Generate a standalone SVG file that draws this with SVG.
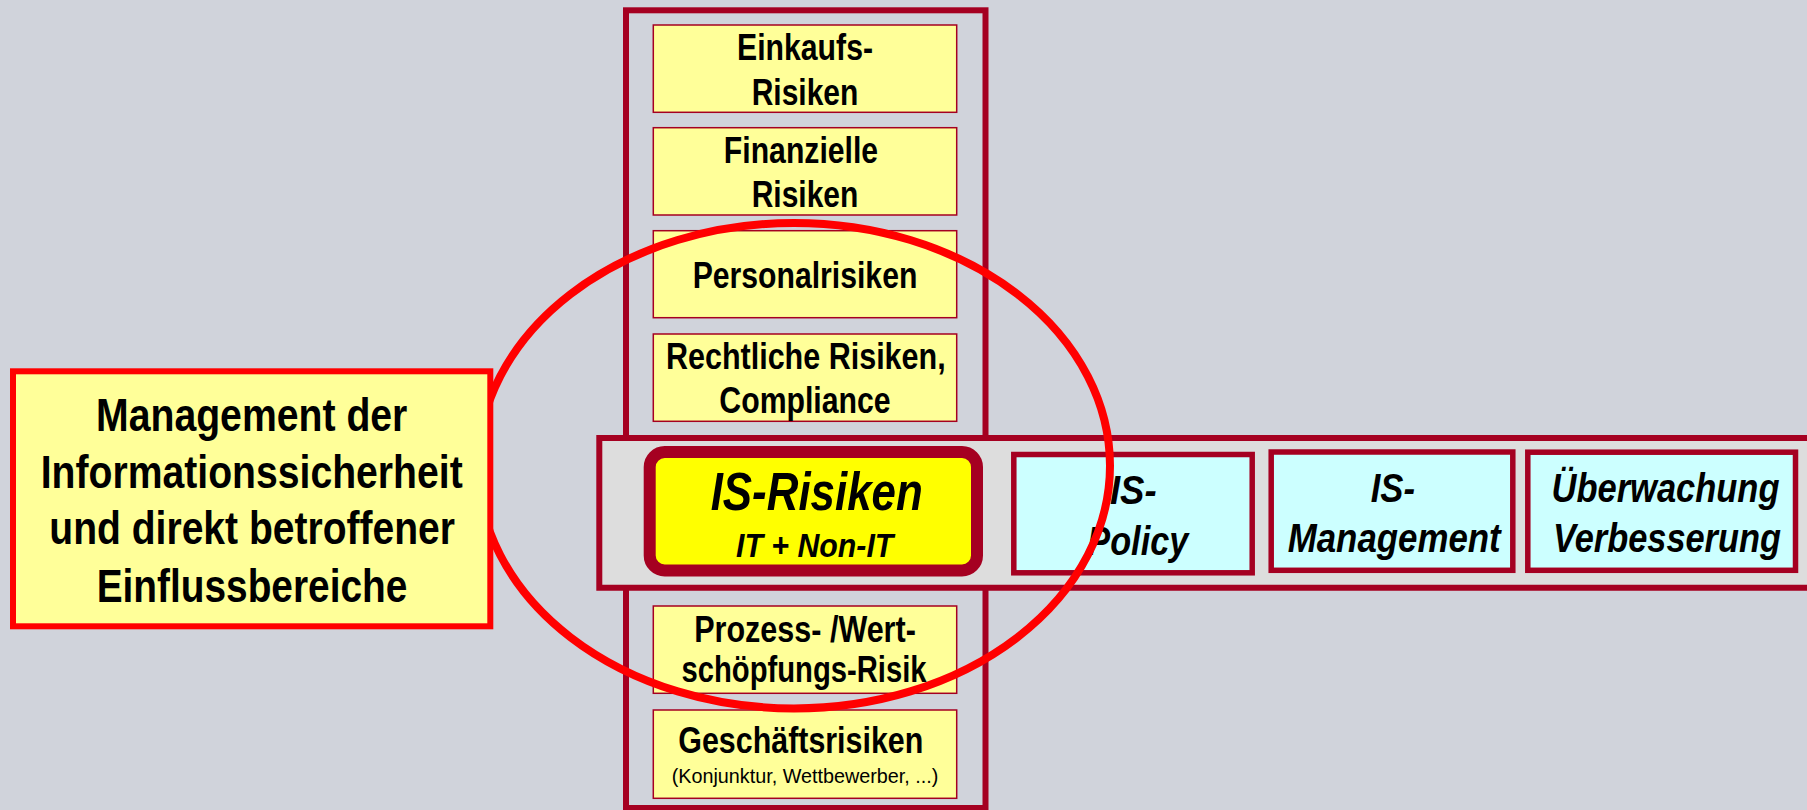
<svg xmlns="http://www.w3.org/2000/svg" width="1807" height="810" viewBox="0 0 1807 810">
  <style>
    text { font-family: "Liberation Sans Narrow", "Arial Narrow", "Liberation Sans", Arial, sans-serif; fill: #000; text-anchor: middle; }
    .risk { fill: #ffff99; stroke: #a50021; stroke-width: 1.5; }
    .lbl { font-size: 36px; font-weight: bold; }
    .small { font-size: 21px; font-weight: normal; }
    .step { fill: #ccffff; stroke: #a50021; stroke-width: 5.5; }
    .steplbl { font-size: 40px; font-weight: bold; font-style: italic; }
    .note { font-size: 46px; font-weight: bold; }
  </style>

  <!-- background -->
  <rect x="0" y="0" width="1807" height="810" fill="#d0d3db"/>

  <!-- vertical column of risk areas -->
  <g id="risk-column">
    <rect x="626" y="10.3" width="359.5" height="797.7" fill="none" stroke="#a50021" stroke-width="6"/>
  </g>

  <g id="einkauf">
    <rect class="risk" x="653.3" y="25" width="303.4" height="87.3"/>
    <text class="lbl" x="805" y="60" textLength="136" lengthAdjust="spacingAndGlyphs">Einkaufs-</text>
    <text class="lbl" x="805" y="105" textLength="106.7" lengthAdjust="spacingAndGlyphs">Risiken</text>
  </g>

  <g id="finanz">
    <rect class="risk" x="653.3" y="127.7" width="303.4" height="87.3"/>
    <text class="lbl" x="801" y="163.3" textLength="154.3" lengthAdjust="spacingAndGlyphs">Finanzielle</text>
    <text class="lbl" x="805" y="207.3" textLength="106.7" lengthAdjust="spacingAndGlyphs">Risiken</text>
  </g>

  <g id="personal">
    <rect class="risk" x="653.3" y="230.7" width="303.4" height="87"/>
    <text class="lbl" x="805" y="288.3" textLength="224.7" lengthAdjust="spacingAndGlyphs">Personalrisiken</text>
  </g>

  <g id="recht">
    <rect class="risk" x="653.3" y="334" width="303.4" height="87.3"/>
    <text class="lbl" x="805.8" y="369" textLength="279.7" lengthAdjust="spacingAndGlyphs">Rechtliche Risiken,</text>
    <text class="lbl" x="805" y="412.7" textLength="171.3" lengthAdjust="spacingAndGlyphs">Compliance</text>
  </g>

  <g id="prozess">
    <rect class="risk" x="653.3" y="606" width="303.4" height="87.3"/>
    <text class="lbl" x="805" y="641.7" textLength="221.7" lengthAdjust="spacingAndGlyphs">Prozess- /Wert-</text>
    <text class="lbl" x="804" y="681.7" textLength="245" lengthAdjust="spacingAndGlyphs">schöpfungs-Risik</text>
  </g>

  <g id="geschaeft">
    <rect class="risk" x="653.3" y="710" width="303.4" height="88.3"/>
    <text class="lbl" x="800.8" y="753.3" textLength="245" lengthAdjust="spacingAndGlyphs">Geschäftsrisiken</text>
    <text class="small" x="805" y="783.3" textLength="266.7" lengthAdjust="spacingAndGlyphs">(Konjunktur, Wettbewerber, ...)</text>
  </g>

  <!-- horizontal band of the IS process, open towards the right edge -->
  <g id="is-band">
    <rect x="599.3" y="438" width="1207.7" height="149.8" fill="#dddddd"/>
    <path d="M1807 438 H599.3 V587.8 H1807" fill="none" stroke="#a50021" stroke-width="6"/>
  </g>

  <g id="is-risiken">
    <rect x="649.7" y="452" width="327.3" height="118.5" rx="15" ry="15" fill="#ffff00" stroke="#a50021" stroke-width="12"/>
    <text x="816.7" y="510" font-size="53" font-weight="bold" font-style="italic" textLength="212" lengthAdjust="spacingAndGlyphs">IS-Risiken</text>
    <text x="814.7" y="557.3" font-size="33" font-weight="bold" font-style="italic" textLength="157.3" lengthAdjust="spacingAndGlyphs">IT + Non-IT</text>
  </g>

  <g id="is-policy">
    <rect class="step" x="1013.8" y="454.5" width="238.4" height="118.3"/>
    <text class="steplbl" x="1133.3" y="504" textLength="46.7" lengthAdjust="spacingAndGlyphs">IS-</text>
    <text class="steplbl" x="1137.8" y="555" textLength="101" lengthAdjust="spacingAndGlyphs">Policy</text>
  </g>

  <g id="is-management">
    <rect class="step" x="1271.2" y="452" width="241.6" height="118.3"/>
    <text class="steplbl" x="1392.8" y="501.7" textLength="44.3" lengthAdjust="spacingAndGlyphs">IS-</text>
    <text class="steplbl" x="1394.2" y="551.7" textLength="213" lengthAdjust="spacingAndGlyphs">Management</text>
  </g>

  <g id="ueberwachung">
    <rect class="step" x="1527.8" y="452.2" width="267.7" height="118.1"/>
    <text class="steplbl" x="1665.5" y="501.7" textLength="228" lengthAdjust="spacingAndGlyphs">Überwachung</text>
    <text class="steplbl" x="1667" y="551.7" textLength="228" lengthAdjust="spacingAndGlyphs">Verbesserung</text>
  </g>

  <!-- red ring marking the scope -->
  <g id="scope-ring">
    <ellipse cx="794" cy="465.7" rx="316" ry="242.7" fill="none" stroke="#ff0000" stroke-width="8"/>
  </g>

  <g id="scope-note">
    <rect x="13" y="371.3" width="477.3" height="255" fill="#ffff99" stroke="#ff0000" stroke-width="6"/>
    <text class="note" x="251.7" y="431" textLength="311.3" lengthAdjust="spacingAndGlyphs">Management der</text>
    <text class="note" x="251.7" y="487.7" textLength="422" lengthAdjust="spacingAndGlyphs">Informationssicherheit</text>
    <text class="note" x="252.2" y="544.3" textLength="405.7" lengthAdjust="spacingAndGlyphs">und direkt betroffener</text>
    <text class="note" x="252" y="601.7" textLength="310.7" lengthAdjust="spacingAndGlyphs">Einflussbereiche</text>
  </g>
</svg>
